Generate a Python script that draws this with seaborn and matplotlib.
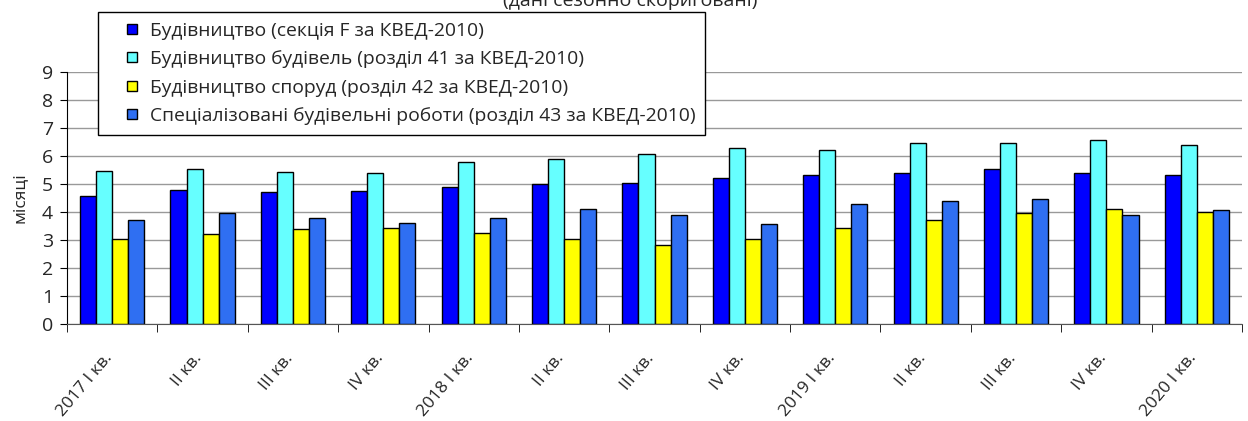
import matplotlib
matplotlib.use("Agg")
import matplotlib.pyplot as plt
import seaborn as sns
import pandas as pd
import numpy as np
from matplotlib.ticker import FixedLocator
from matplotlib.patches import Rectangle
from matplotlib.legend_handler import HandlerPatch

categories = ["2017 I кв.", "II кв.", "III кв.", "IV кв.", "2018 I кв.", "II кв.", "III кв.",
              "IV кв.", "2019 I кв.", "II кв.", "III кв.", "IV кв.", "2020 I кв."]
series_names = ["Будівництво (секція F за КВЕД-2010)",
                "Будівництво будівель (розділ 41 за КВЕД-2010)",
                "Будівництво споруд (розділ 42 за КВЕД-2010)",
                "Спеціалізовані будівельні роботи (розділ 43 за КВЕД-2010)"]
construction_F = [4.56, 4.79, 4.73, 4.75, 4.90, 4.99, 5.03, 5.22, 5.32, 5.39, 5.53, 5.40, 5.32]
buildings_41 = [5.48, 5.53, 5.42, 5.39, 5.78, 5.89, 6.06, 6.29, 6.20, 6.47, 6.48, 6.58, 6.41]
structures_42 = [3.05, 3.23, 3.41, 3.43, 3.25, 3.03, 2.81, 3.05, 3.42, 3.72, 3.95, 4.12, 4.01]
specialized_43 = [3.70, 3.98, 3.79, 3.59, 3.79, 4.09, 3.88, 3.58, 4.28, 4.38, 4.48, 3.89, 4.08]
yticks = [0, 1, 2, 3, 4, 5, 6, 7, 8, 9]
title = "(дані сезонно скориговані)"
ylabel = "місяці"

colors = ["#0000FF", "#66FFFF", "#FFFF00", "#2F6FF2"]

sns.set_style("white")
plt.rcParams['font.family'] = ['Open Sans', 'DejaVu Sans']

pos = [f"{i:02d}" for i in range(len(categories))]
rows = []
for name, vals in zip(series_names, [construction_F, buildings_41, structures_42, specialized_43]):
    for p, v in zip(pos, vals):
        rows.append({"pos": p, "series": name, "value": v})
df = pd.DataFrame(rows)

fig = plt.figure(figsize=(12.48, 4.21), dpi=100)
ax = fig.add_axes([67/1248, 1-324/421, (1242-67)/1248, (324-72)/421])

sns.barplot(data=df, x="pos", y="value", hue="series", order=pos, hue_order=series_names,
            palette=colors, width=0.71, gap=0, edgecolor="black", linewidth=1,
            saturation=1, ax=ax, errorbar=None, legend=True)

ax.set_ylim(0, 9)
ax.set_xlim(-0.5, len(categories) - 0.5)
ax.set_yticks(yticks)
ax.set_yticklabels([str(t) for t in yticks], fontsize=14)
ax.yaxis.grid(True, color="#999999", linewidth=1)
ax.set_axisbelow(True)
for s in ["top", "right"]:
    ax.spines[s].set_visible(False)
ax.spines["left"].set_color("black")
ax.spines["bottom"].set_color("#555555")
ax.tick_params(axis="y", direction="out", length=5, color="black", pad=5, left=True)

ax.set_xticks(np.arange(len(categories)) - 0.1)
ax.set_xticklabels(categories, rotation=50, ha="right", rotation_mode="anchor", fontsize=12.5)
ax.tick_params(axis="x", which="major", length=0, pad=19)
ax.xaxis.set_minor_locator(FixedLocator(np.arange(-0.5, len(categories), 1.0)))
ax.tick_params(axis="x", which="minor", length=6, direction="out", color="black", bottom=True)
ax.set_xlabel("")
ax.set_ylabel(ylabel, fontsize=12.5, labelpad=10)


def square_patch(legend, orig_handle, xdescent, ydescent, width, height, fontsize):
    s = 7.4
    return Rectangle((width - s - xdescent, -ydescent + (height - s) / 2), s, s)


handles, labels = ax.get_legend_handles_labels()
if ax.legend_:
    ax.legend_.remove()
leg = fig.legend(handles, labels, loc="upper left", bbox_to_anchor=(98/1248, 1-12/421),
                 frameon=True, fancybox=False, fontsize=13.9, handlelength=1.52, handleheight=0.6,
                 handletextpad=0.67, labelspacing=0.54, borderpad=0.5, borderaxespad=0,
                 handler_map={Rectangle: HandlerPatch(patch_func=square_patch)})
for h in leg.legend_handles:
    h.set_edgecolor("black")
    h.set_linewidth(1)
leg.get_frame().set_edgecolor("black")
leg.get_frame().set_linewidth(1)
leg.get_frame().set_alpha(1)

fig.text(0.505, 1 - 6/421, title, ha="center", va="baseline", fontsize=14)

fig.savefig("out.png", dpi=100)
